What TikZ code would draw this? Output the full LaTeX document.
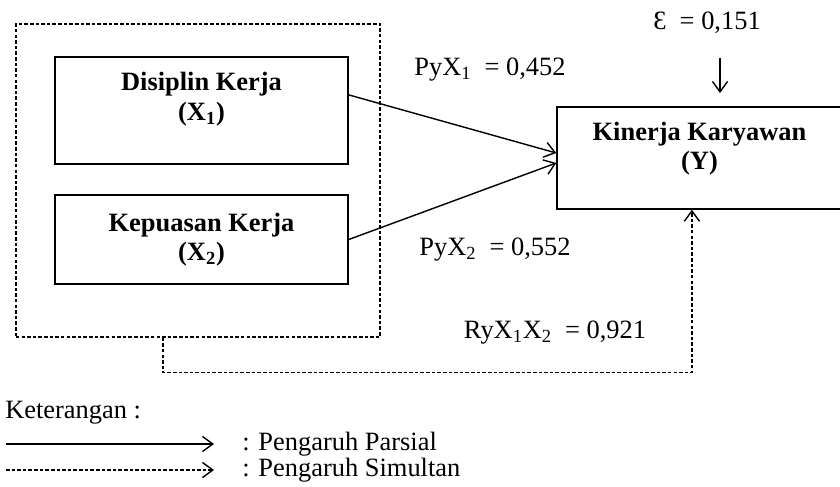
\documentclass[tikz,border=0pt]{standalone}
\usepackage{fontspec}
\setmainfont{Liberation Serif}
\usetikzlibrary{arrows.meta}

\tikzset{
  varbox/.style={draw, line width=1pt, align=center, font=\bfseries\fontsize{18.8}{21}\selectfont},
  lbl/.style={font=\fontsize{18.8}{21}\selectfont},
  parsial/.style={line width=1pt, -{Straight Barb[length=2.6mm,width=3.8mm]}},
  simultan/.style={parsial, dash pattern=on 2.5pt off 1.5pt},
}

\begin{document}
\begin{tikzpicture}[x=0.025cm, y=-0.025cm]
  \useasboundingbox (0,0) rectangle (840,486);

  % variabel bebas
  \node[draw, line width=0.9pt, dash pattern=on 2.5pt off 1.5pt, minimum width=9.1cm, minimum height=7.825cm] (grp) at (198,180.5) {};
  \node[varbox, minimum width=7.325cm, minimum height=2.675cm, text depth=20pt] (x1) at (201.5,110.5) {Disiplin Kerja\\(X\textsubscript{1})};
  \node[varbox, minimum width=7.325cm, minimum height=2.225cm] (x2) at (201.5,239.5) {Kepuasan Kerja\\(X\textsubscript{2})};
  % variabel terikat
  \node[varbox, minimum width=7.125cm, minimum height=2.55cm, text depth=17pt] (y) at (699.5,158) {Kinerja Karyawan\\(Y)};

  \draw[parsial] ([yshift=0.39cm]x1.east) -- ([yshift=0.125cm]y.west);
  \draw[parsial] (x2.east) -- ([yshift=-0.125cm]y.west);
  \node[lbl] (p1) at (490,70) {PyX\textsubscript{1}\ \ = 0,452};
  \node[lbl] (p2) at (495,250) {PyX\textsubscript{2}\ \ = 0,552};

  % epsilon
  \node[lbl] (eps) at (707,23) {Ɛ\ \ = 0,151};
  \coordinate (epsA) at (720,58);
  \coordinate (epsB) at (720,93);
  \draw[parsial] (epsA) -- (epsB);

  % simultan
  \draw[simultan] ([xshift=-0.875cm]grp.south) -- ++(0,35) -| ([xshift=-0.19cm]y.south);
  \node[lbl] (r) at (555,333) {RyX\textsubscript{1}X\textsubscript{2}\ \ = 0,921};

  % keterangan
  \node[lbl, anchor=west, inner sep=0] (ket) at (5,413) {Keterangan :};
  \coordinate (lgA) at (6,444);
  \coordinate (lgB) at (214,444);
  \draw[parsial] (lgA) -- (lgB);
  \node[lbl, anchor=west, inner sep=0] (lgParsial) at (242,444) {: Pengaruh Parsial};
  \coordinate (lgC) at (6,470);
  \coordinate (lgD) at (214,470);
  \draw[simultan] (lgC) -- (lgD);
  \node[lbl, anchor=west, inner sep=0] (lgSimultan) at (242,470) {: Pengaruh Simultan};
\end{tikzpicture}
\end{document}
